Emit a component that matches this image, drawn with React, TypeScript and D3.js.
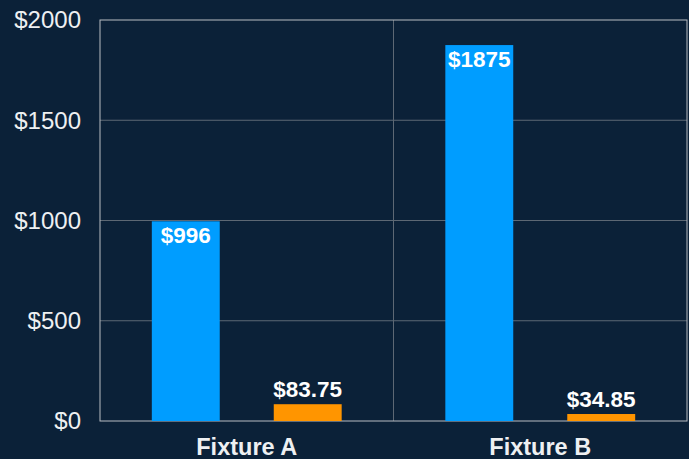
import React from "react";
import * as d3 from "d3";

const categories = ["Fixture A", "Fixture B"];
const seriesKeys = ["blue", "orange"];
const blueValues = [996, 1875];
const orangeValues = [83.75, 34.85];
const valueLabels = [["$996", "$83.75"], ["$1875", "$34.85"]];
const yTicks = [0, 500, 1000, 1500, 2000];

const W = 689;
const H = 459;
const M = { left: 100, right: 2, top: 20, bottom: 38 };

export default function App() {
  const x0 = d3.scaleBand().domain(categories).range([M.left, W - M.right]).paddingInner(0).paddingOuter(0);
  const x1 = d3.scaleBand().domain(seriesKeys).range([0, x0.bandwidth()]).paddingInner(0.443).paddingOuter(0.425);
  const y = d3.scaleLinear().domain([0, 2000]).range([H - M.bottom, M.top]);
  const colors: Record<string, string> = { blue: "#009dff", orange: "#ff9500" };
  const font = "'Liberation Sans', Arial, Helvetica, sans-serif";
  const x0Left = M.left, x0Right = W - M.right, yTop = M.top, yBot = H - M.bottom;

  return (
    <svg width={W} height={H} style={{ position: "absolute", left: 0, top: 0, display: "block" }} fontFamily={font}>
      <rect x={0} y={0} width={W} height={H} fill="#0b2138" />
      {yTicks.filter(t => t > 0 && t < 2000).map(t => (
        <line key={t} x1={x0Left} x2={x0Right} y1={y(t)} y2={y(t)} stroke="#5d6874" strokeWidth={1} />
      ))}
      {categories.slice(1).map(c => (
        <line key={c} x1={x0(c)!} x2={x0(c)!} y1={yTop} y2={yBot} stroke="#5d6874" strokeWidth={1} />
      ))}
      <rect x={x0Left} y={yTop} width={x0Right - x0Left} height={yBot - yTop} fill="none" stroke="#b9bdc2" strokeWidth={1} />
      {yTicks.map(t => (
        <text key={t} x={81} y={y(t)} dy="0.35em" textAnchor="end" fill="#eef0f2" fontSize={24}>
          ${t}
        </text>
      ))}
      {categories.map((c, i) => {
        const vals = [blueValues[i], orangeValues[i]];
        return (
          <g key={c}>
            {seriesKeys.map((k, j) => {
              const bx = x0(c)! + x1(k)!;
              const by = y(vals[j]);
              const inside = j === 0;
              return (
                <g key={k}>
                  <rect x={bx} y={by} width={x1.bandwidth()} height={y(0) - by} fill={colors[k]} />
                  <text
                    x={bx + x1.bandwidth() / 2}
                    y={inside ? by + 22 : by - 7}
                    textAnchor="middle"
                    fill="#ffffff"
                    fontWeight="bold"
                    fontSize={22.5}
                  >
                    {valueLabels[i][j]}
                  </text>
                </g>
              );
            })}
            <text x={x0(c)! + x0.bandwidth() / 2} y={455} textAnchor="middle" fill="#eef0f2" fontWeight="bold" fontSize={23.5}>
              {c}
            </text>
          </g>
        );
      })}
    </svg>
  );
}
